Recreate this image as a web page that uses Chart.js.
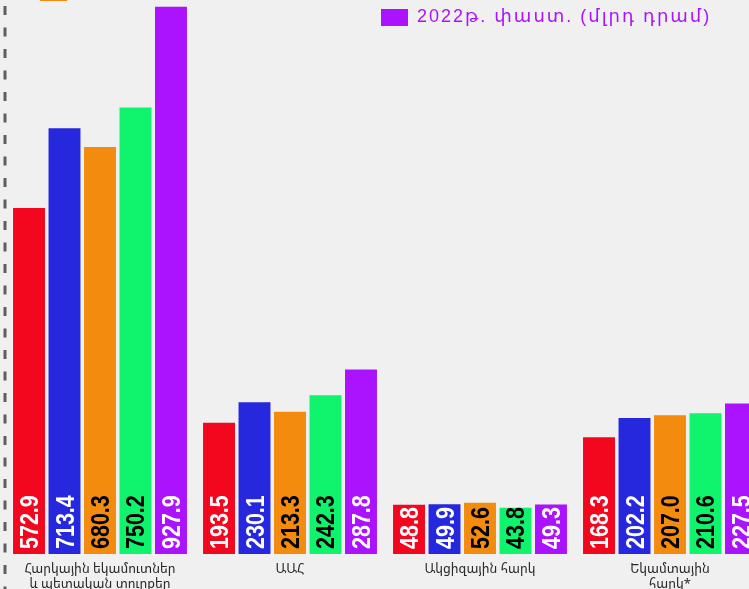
<!DOCTYPE html>
<html>
<head>
<meta charset="utf-8">
<script src="https://cdn.jsdelivr.net/npm/chart.js@4.4.0/dist/chart.umd.min.js"></script>
<style>
html, body { margin: 0; padding: 0; background: #f0f0f0; overflow: hidden; }
#wrap { width: 749px; height: 589px; overflow: hidden; position: relative; }
#chart { position: absolute; left: 0; top: 0; }
</style>
</head>
<body>
<div id="wrap"><canvas id="chart" width="770" height="620"></canvas></div>
<script>
const categories = [
    ['Հարկային եկամուտներ', 'և պետական տուրքեր'],
    'ԱԱՀ',
    'Ակցիզային հարկ',
    ['Եկամտային', 'հարկ*']
]
const seriesLabels = [
    '2018թ. փաստ. (մլրդ դրամ)',
    '2019թ. փաստ. (մլրդ դրամ)',
    '2020թ. փաստ. (մլրդ դրամ)',
    '2021թ. փաստ. (մլրդ դրամ)',
    '2022թ. փաստ. (մլրդ դրամ)'
]
const values2018 = [572.9, 193.5, 48.8, 168.3]
const values2019 = [713.4, 230.1, 49.9, 202.2]
const values2020 = [680.3, 213.3, 52.6, 207.0]
const values2021 = [750.2, 242.3, 43.8, 210.6]
const values2022 = [927.9, 287.8, 49.3, 227.5]

const barColors = ['#f2071f', '#2628de', '#f38b0e', '#0ff36d', '#ab12fd']
const textColors = ['#ffffff', '#ffffff', '#000000', '#000000', '#ffffff']
const axisMin = -38

const allValues = [values2018, values2019, values2020, values2021, values2022]

const dashedEdge = {
    id: 'dashedEdge',
    beforeDatasetsDraw(chart) {
        const ctx = chart.ctx
        ctx.save()
        ctx.strokeStyle = '#5e5e5e'
        ctx.lineWidth = 3
        ctx.setLineDash([9, 12.5])
        ctx.beginPath()
        ctx.moveTo(chart.chartArea.left, 6)
        ctx.lineTo(chart.chartArea.left, 620)
        ctx.stroke()
        ctx.restore()
    }
}

const barValues = {
    id: 'barValues',
    afterDatasetsDraw(chart) {
        const ctx = chart.ctx
        chart.data.datasets.forEach((ds, i) => {
            chart.getDatasetMeta(i).data.forEach((bar, j) => {
                ctx.save()
                ctx.translate(bar.x, bar.base - 5)
                ctx.rotate(-Math.PI / 2)
                ctx.scale(0.86, 1)
                ctx.font = 'bold 25px "Liberation Sans", Arial, sans-serif'
                ctx.fillStyle = textColors[i]
                ctx.textAlign = 'left'
                ctx.textBaseline = 'alphabetic'
                ctx.fillText(ds.data[j].toFixed(1), 0, 9)
                ctx.restore()
            })
        })
    }
}

// legend is drawn by hand, only the lower rows fall inside the picture
const legendPos = [[40, -64], [40, -40], [40, -16], [381, -40], [381, 9]]
const sideLegend = {
    id: 'sideLegend',
    afterDraw(chart) {
        const ctx = chart.ctx
        chart.data.datasets.forEach((ds, i) => {
            const [x, y] = legendPos[i]
            ctx.save()
            ctx.fillStyle = ds.backgroundColor
            ctx.fillRect(x, y, 27, 17)
            ctx.font = '18px "Liberation Sans", "DejaVu Sans", sans-serif'
            ctx.letterSpacing = '2px'
            ctx.textBaseline = 'middle'
            ctx.fillText(ds.label, x + 36, i === 4 ? y + 8 : y + 5)
            ctx.restore()
        })
    }
}

new Chart(document.getElementById('chart'), {
    type: 'bar',
    data: {
        labels: categories,
        datasets: allValues.map((vals, i) => ({
            label: seriesLabels[i],
            data: vals,
            base: axisMin,
            backgroundColor: barColors[i],
            borderWidth: 0,
            categoryPercentage: 0.934,
            barPercentage: 0.9
        }))
    },
    options: {
        responsive: false,
        animation: false,
        devicePixelRatio: 1,
        layout: {padding: {left: 5, right: 5, top: 0, bottom: 0}},
        plugins: {
            legend: {display: false},
            tooltip: {enabled: false}
        },
        scales: {
            y: {
                display: false,
                min: axisMin,
                max: 940
            },
            x: {
                grid: {display: false, drawTicks: false},
                border: {display: false},
                ticks: {
                    padding: 7,
                    color: '#2a2a2a',
                    font: {family: '"Noto Sans Armenian", "Noto Sans", "DejaVu Sans", sans-serif', size: 13},
                    maxRotation: 0,
                    autoSkip: false
                },
                afterFit: (scale) => { scale.height = 66 }
            }
        }
    },
    plugins: [dashedEdge, barValues, sideLegend]
})
</script>
</body>
</html>
